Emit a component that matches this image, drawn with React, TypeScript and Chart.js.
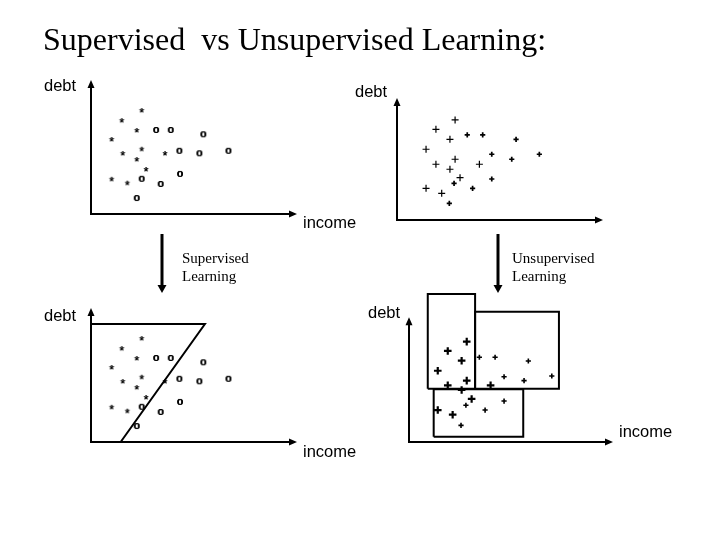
import React, { useEffect, useRef } from "react";
import { Chart, registerables } from "chart.js";

Chart.register(...registerables);

// ---------- DATA (income, debt) ----------
// labelled data (supervised panels): class "*" and class "0"
const classStar: [number, number][] = [
  [24.6, 77.6], [14.9, 70.1], [22.2, 62.7], [10.0, 56.0], [15.4, 45.5], [24.6, 48.7],
  [22.2, 41.0], [35.9, 45.5], [26.7, 33.6], [10.0, 26.3], [17.6, 23.4],
];
const classZero: [number, number][] = [
  [31.6, 62.7], [38.7, 62.7], [54.5, 59.5], [42.9, 47.2], [52.6, 45.3], [66.7, 47.2],
  [24.6, 26.3], [33.8, 22.4], [43.2, 29.9], [22.2, 11.9],
];
// decision boundary drawn in the supervised result panel
const boundary: [number, number][] = [[0, 88], [55.3, 88], [14.4, 0]];

// unlabelled data (top-right panel)
const unlabTopLarge: [number, number][] = [
  [28.2, 82.0], [18.9, 74.3], [25.7, 66.1], [14.1, 58.0], [18.9, 45.7], [28.2, 49.8],
  [25.7, 41.6], [40.0, 45.7], [30.6, 34.7], [14.1, 26.0], [21.7, 21.9],
];
const unlabTopSmall: [number, number][] = [
  [34.1, 69.7], [41.6, 69.7], [57.8, 66.1], [46.0, 53.9], [55.7, 49.8], [69.1, 53.9],
  [46.0, 33.6], [36.7, 26.0], [27.7, 30.1], [25.4, 13.7],
];
// unlabelled data (bottom-right panel, clustered)
const unlabBotLarge: [number, number][] = [
  [28.3, 66.9], [19.0, 60.7], [25.8, 54.2], [14.1, 47.5], [28.3, 40.9], [19.0, 37.8],
  [25.8, 34.7], [40.0, 37.8], [30.7, 28.7], [14.1, 21.3], [21.4, 18.2],
];
const unlabBotSmall: [number, number][] = [
  [34.5, 56.5], [42.2, 56.5], [58.5, 54.0], [46.6, 43.5], [56.4, 40.9], [70.0, 44.0],
  [27.9, 24.5], [46.6, 27.3], [37.3, 21.3], [25.5, 11.1],
];
// cluster boxes: [xMin, yMin, xMax, yMax]
const clusterA: [number, number, number, number] = [9.2, 35.5, 32.4, 98.7];
const clusterB: [number, number, number, number] = [32.4, 35.5, 73.5, 86.9];
const clusterC: [number, number, number, number] = [12.1, 3.5, 56.0, 35.1];

// ---------- helpers ----------
const pts = (a: [number, number][]) => a.map(([x, y]) => ({ x, y }));
const box = ([x0, y0, x1, y1]: [number, number, number, number]) =>
  [{ x: x0, y: y0 }, { x: x1, y: y0 }, { x: x1, y: y1 }, { x: x0, y: y1 }, { x: x0, y: y0 }];

function glyph(ch: string, font: string, w: number, h: number, sx = 1, sy = 1) {
  const c = document.createElement("canvas");
  c.width = w;
  c.height = h;
  const g = c.getContext("2d")!;
  g.font = font;
  g.fillStyle = "#000";
  const m = g.measureText(ch);
  const gw = m.actualBoundingBoxLeft + m.actualBoundingBoxRight;
  const gh = m.actualBoundingBoxAscent + m.actualBoundingBoxDescent;
  g.translate(w / 2, h / 2);
  g.scale(sx, sy);
  g.fillText(ch, -gw / 2 + m.actualBoundingBoxLeft, -gh / 2 + m.actualBoundingBoxAscent);
  g.fillText(ch, -gw / 2 + m.actualBoundingBoxLeft, -gh / 2 + m.actualBoundingBoxAscent);
  return c;
}

const axisArrows = {
  id: "axisArrows",
  beforeDatasetsDraw(chart: any, _args: any, opts: any) {
    const { ctx, chartArea } = chart;
    const { left, right, bottom, top } = chartArea;
    const yTip = opts && opts.yTip != null ? chart.scales.y.getPixelForValue(opts.yTip) : top;
    ctx.save();
    ctx.strokeStyle = "#000";
    ctx.fillStyle = "#000";
    ctx.lineWidth = 2;
    ctx.beginPath();
    ctx.moveTo(left - 1, bottom);
    ctx.lineTo(right - 6, bottom);
    ctx.moveTo(left, bottom + 1);
    ctx.lineTo(left, yTip + 6);
    ctx.stroke();
    ctx.beginPath();
    ctx.moveTo(right, bottom);
    ctx.lineTo(right - 8, bottom - 3.5);
    ctx.lineTo(right - 8, bottom + 3.5);
    ctx.closePath();
    ctx.moveTo(left, yTip);
    ctx.lineTo(left - 3.5, yTip + 8);
    ctx.lineTo(left + 3.5, yTip + 8);
    ctx.closePath();
    ctx.fill();
    ctx.restore();
  },
};

const flowArrows = {
  id: "flowArrows",
  afterDraw(chart: any) {
    const { ctx } = chart;
    ctx.save();
    ctx.strokeStyle = "#000";
    ctx.fillStyle = "#000";
    ctx.lineWidth = 3;
    for (const x of [162, 498]) {
      ctx.beginPath();
      ctx.moveTo(x, 234);
      ctx.lineTo(x, 286);
      ctx.stroke();
      ctx.beginPath();
      ctx.moveTo(x, 293);
      ctx.lineTo(x - 4.5, 285);
      ctx.lineTo(x + 4.5, 285);
      ctx.closePath();
      ctx.fill();
    }
    ctx.restore();
  },
};

type Panel = {
  padding: { left: number; right: number; top: number; bottom: number };
  datasets: () => any[];
  yTip?: number;
  extra?: any[];
};

function makeChart(canvas: HTMLCanvasElement, p: Panel) {
  return new Chart(canvas, {
    type: "scatter",
    data: { datasets: p.datasets() },
    options: {
      animation: false,
      responsive: false,
      events: [],
      layout: { padding: p.padding },
      scales: {
        x: { type: "linear", min: 0, max: 100, display: false },
        y: { type: "linear", min: 0, max: 100, display: false },
      },
      plugins: {
        legend: { display: false },
        tooltip: { enabled: false },
        title: { display: false },
        axisArrows: { yTip: p.yTip },
      } as any,
    },
    plugins: [axisArrows, ...(p.extra || [])],
  });
}

const W = 720;
const H = 540;

function Txt(props: { x: number; base: number; size: number; serif?: boolean; children: React.ReactNode }) {
  const asc = props.serif ? 0.891 : 0.905;
  const desc = props.serif ? 0.216 : 0.212;
  const s = props.size;
  const top = props.base - ((s - s * (asc + desc)) / 2 + s * asc);
  return (
    <div
      style={{
        position: "absolute",
        left: props.x,
        top,
        fontSize: s,
        lineHeight: `${s}px`,
        fontFamily: props.serif ? '"Liberation Serif", "Times New Roman", serif' : '"Liberation Sans", Arial, sans-serif',
        whiteSpace: "nowrap",
        color: "#000",
      }}
    >
      {props.children}
    </div>
  );
}

export default function App() {
  const r1 = useRef<HTMLCanvasElement>(null);
  const r2 = useRef<HTMLCanvasElement>(null);
  const r3 = useRef<HTMLCanvasElement>(null);
  const r4 = useRef<HTMLCanvasElement>(null);

  useEffect(() => {
    const star = glyph("*", '13px "Liberation Sans"', 12, 12);
    const zero = glyph("0", 'bold 11px "Liberation Sans"', 12, 12, 1.1, 0.82);

    const labelled = () => [
      { data: pts(classStar), pointStyle: star, clip: false },
      { data: pts(classZero), pointStyle: zero, clip: false },
    ];
    const plusSet = (d: [number, number][], r: number, w: number) => ({
      data: pts(d),
      pointStyle: "cross",
      pointRadius: r,
      borderWidth: w,
      borderColor: "#000",
      clip: false,
    });
    const lineSet = (d: { x: number; y: number }[]) => ({
      data: d,
      showLine: true,
      pointRadius: 0,
      borderColor: "#000",
      borderWidth: 2,
      fill: false,
      tension: 0,
      clip: false,
    });

    const charts = [
      makeChart(r1.current!, {
        padding: { left: 91, right: W - 297, top: 80, bottom: H - 214 },
        datasets: labelled,
        extra: [flowArrows],
      }),
      makeChart(r2.current!, {
        padding: { left: 397, right: W - 603, top: 98, bottom: H - 220 },
        datasets: () => [plusSet(unlabTopLarge, 3.5, 1.2), plusSet(unlabTopSmall, 2.6, 1.7)],
      }),
      makeChart(r3.current!, {
        padding: { left: 91, right: W - 297, top: 308, bottom: H - 442 },
        datasets: () => [...labelled(), lineSet(pts(boundary))],
      }),
      makeChart(r4.current!, {
        padding: { left: 409, right: W - 613, top: 292, bottom: H - 442 },
        yTip: 83.1,
        datasets: () => [
          lineSet(box(clusterA)),
          lineSet(box(clusterB)),
          lineSet(box(clusterC)),
          plusSet(unlabBotLarge, 3.8, 2.2),
          plusSet(unlabBotSmall, 2.6, 1.6),
        ],
      }),
    ];
    return () => charts.forEach((c) => c.destroy());
  }, []);

  const cv: React.CSSProperties = { position: "absolute", left: 0, top: 0, width: W, height: H };

  return (
    <div style={{ position: "fixed", left: 0, top: 0, width: W, height: H, background: "#fff", overflow: "hidden" }}>
      <canvas ref={r1} width={W} height={H} style={cv} />
      <canvas ref={r2} width={W} height={H} style={cv} />
      <canvas ref={r3} width={W} height={H} style={cv} />
      <canvas ref={r4} width={W} height={H} style={cv} />

      <Txt x={43} base={50} size={32} serif>
        {"Supervised\u00a0 vs Unsupervised Learning:"}
      </Txt>

      <Txt x={182} base={264} size={15} serif>Supervised</Txt>
      <Txt x={182} base={282} size={15} serif>Learning</Txt>
      <Txt x={512} base={264} size={15} serif>Unsupervised</Txt>
      <Txt x={512} base={282} size={15} serif>Learning</Txt>

      <Txt x={44} base={91} size={16.5}>debt</Txt>
      <Txt x={355} base={97} size={16.5}>debt</Txt>
      <Txt x={303} base={228} size={16.5}>income</Txt>
      <Txt x={44} base={321} size={16.5}>debt</Txt>
      <Txt x={303} base={457} size={16.5}>income</Txt>
      <Txt x={368} base={318} size={16.5}>debt</Txt>
      <Txt x={619} base={437} size={16.5}>income</Txt>
    </div>
  );
}
